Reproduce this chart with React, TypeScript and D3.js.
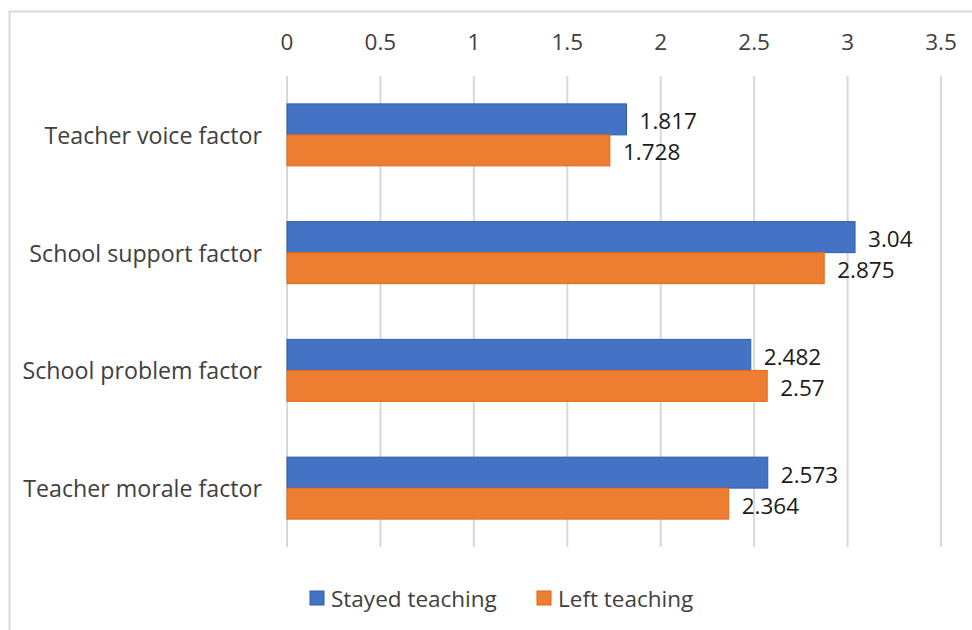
import React from "react";
import * as d3 from "d3";

const categories = ["Teacher voice factor", "School support factor", "School problem factor", "Teacher morale factor"];
const stayed = [1.817, 3.04, 2.482, 2.573];
const left = [1.728, 2.875, 2.57, 2.364];
const ticks = [0, 0.5, 1, 1.5, 2, 2.5, 3, 3.5];
const seriesNames = ["Stayed teaching", "Left teaching"];
const colors = ["#4472C4", "#ED7D31"];
const strokes = ["#2F5DB0", "#E0691A"];

const W = 972, H = 630;
const FONT = "'Open Sans', 'Liberation Sans', sans-serif";
const FS = 22.5;

export default function App() {
  const x = d3.scaleLinear().domain([0, 3.5]).range([287, 941]);
  const y = d3.scaleBand().domain(categories).range([76, 547]).paddingInner(0).paddingOuter(0);
  const bw = y.bandwidth();
  const barH = bw / 1.9 / 2;
  const series = [stayed, left];
  return (
    <svg width={W} height={H} style={{ position: "absolute", left: 0, top: 0, background: "#fff" }}>
      <rect x={0} y={0} width={W} height={H} fill="#fff" />
      <path d={`M9.5,${H} L9.5,11.5 L${W},11.5`} fill="none" stroke="#d9d9d9" strokeWidth={2} />
      {ticks.map((t) => (
        <g key={t}>
          <line x1={x(t)} x2={x(t)} y1={76} y2={547} stroke="#d9d9d9" strokeWidth={2} />
          <text x={x(t)} y={41} textAnchor="middle" dominantBaseline="central" fontFamily={FONT} fontSize={FS} fill="#404040">{t}</text>
        </g>
      ))}
      {categories.map((c, i) => {
        const cy = (y(c) as number) + bw / 2;
        return (
          <g key={c}>
            <text x={262} y={cy} textAnchor="end" dominantBaseline="central" fontFamily={FONT} fontSize={23.2} fill="#404040">{c}</text>
            {series.map((s, k) => {
              const by = cy - barH + k * barH;
              return (
                <g key={k}>
                  <rect x={x(0)} y={by} width={x(s[i]) - x(0)} height={barH} fill={colors[k]} stroke={strokes[k]} strokeWidth={1} />
                  <text x={x(s[i]) + 13} y={by + barH / 2 + 1.5} dominantBaseline="central" fontFamily={FONT} fontSize={FS} fill="#1a1a1a">{s[i]}</text>
                </g>
              );
            })}
          </g>
        );
      })}
      {seriesNames.map((n, k) => {
        const lx = k === 0 ? 310 : 537;
        return (
          <g key={n}>
            <rect x={lx} y={591} width={14} height={14} fill={colors[k]} stroke={strokes[k]} strokeWidth={1} />
            <text x={lx + 21} y={598} dominantBaseline="central" fontFamily={FONT} fontSize={FS} fill="#404040">{n}</text>
          </g>
        );
      })}
    </svg>
  );
}
